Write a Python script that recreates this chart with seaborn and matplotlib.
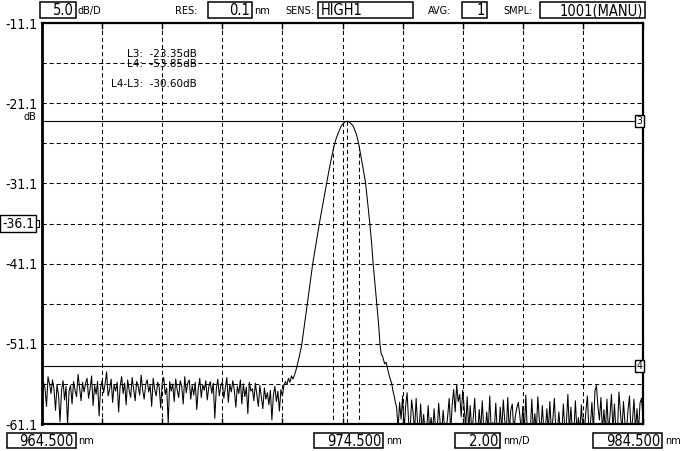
import numpy as np
import pandas as pd
import matplotlib
matplotlib.use("Agg")
import matplotlib.pyplot as plt
import matplotlib.transforms as mtransforms
from matplotlib import font_manager
from matplotlib.patches import Rectangle
import seaborn as sns

START_NM = 964.5
STOP_NM = 984.5
STEP_NM = 0.05

# Rauschen links vom Peak (964.50 ... 972.80 nm, alle 0.05 nm)
noise_left_db = [
    -57.8, -55.9, -56.6, -58.9, -55.2, -56.1, -57.3, -55.6, -56.8, -59.4,
    -56.2, -57.5, -60.8, -56.9, -55.7, -58.1, -56.4, -61.2, -57.0, -56.3,
    -58.6, -55.8, -56.9, -57.7, -54.9, -56.5, -58.2, -55.9, -57.1, -56.0,
    -55.4, -57.9, -56.7, -55.1, -58.8, -56.3, -57.4, -55.8, -60.1, -56.6,
    -55.7, -57.2, -56.1, -54.6, -57.6, -56.8, -55.5, -58.4, -56.2, -57.0,
    -55.9, -59.6, -56.4, -55.2, -57.3, -56.0, -58.7, -55.6, -56.9, -57.8,
    -55.3, -56.7, -58.2, -55.8, -56.4, -57.5, -55.0, -56.9, -58.0, -56.2,
    -55.6, -57.1, -56.3, -58.9, -55.4, -56.8, -57.6, -55.9, -56.5, -59.1,
    -56.0, -55.3, -57.4, -56.6, -61.0, -55.8, -57.0, -56.1, -58.3, -55.5,
    -56.9, -57.8, -55.7, -56.4, -58.6, -55.2, -57.2, -56.0, -55.6, -58.0,
    -56.3, -57.5, -55.9, -59.3, -56.7, -55.4, -57.8, -56.2, -56.9, -55.7,
    -58.1, -56.5, -55.8, -57.3, -56.0, -60.4, -56.8, -55.5, -57.6, -56.3,
    -55.9, -57.9, -56.6, -55.3, -58.4, -56.2, -57.1, -55.7, -56.9, -59.0,
    -56.4, -57.3, -55.6, -58.6, -56.1, -57.7, -56.5, -59.8, -55.9, -57.0,
    -56.7, -58.2, -56.0, -57.4, -58.9, -56.3, -57.8, -59.2, -56.6, -58.0,
    -57.2, -58.7, -56.9, -60.6, -57.5, -56.4, -58.3, -57.0, -59.5, -56.8,
    -57.6, -56.3, -55.8, -56.2, -55.4, -55.9, -55.1,
]

# Peak (972.85 ... 976.26 nm)
peak_nm = [
    972.85, 972.92, 972.98, 973.06, 973.14, 973.24, 973.33, 973.42, 973.51,
    973.62, 973.73, 973.85, 973.97, 974.09, 974.22, 974.29, 974.36, 974.45,
    974.53, 974.60, 974.66, 974.72, 974.80, 974.86, 974.95, 975.00, 975.05,
    975.16, 975.27, 975.34, 975.41, 975.47, 975.52, 975.58, 975.64, 975.70,
    975.75, 975.79, 975.83, 975.86, 975.90, 975.95, 976.00, 976.05, 976.10,
    976.14, 976.18, 976.22, 976.26,
]
peak_db = [
    -55.5, -54.8, -54.0, -52.7, -51.3, -48.6, -46.1, -43.6, -41.1,
    -38.6, -36.1, -33.6, -31.1, -28.7, -26.4, -25.5, -24.8, -24.0,
    -23.6, -23.4, -23.35, -23.45, -23.7, -24.0, -24.85, -25.5, -26.4,
    -28.7, -31.1, -33.6, -36.1, -38.6, -41.1, -43.6, -46.1, -48.6,
    -51.3, -52.4, -52.6, -53.0, -53.6, -53.4, -54.2, -55.0, -55.6,
    -56.1, -57.0, -57.6, -58.4,
]

# Rauschen rechts vom Peak (976.30 ... 984.50 nm), -62 = unter dem Bildrand
NOISE_RIGHT_START = 976.30
noise_right_db = [
    -59.0, -61.8, -58.4, -60.5, -57.6, -62.0, -58.9, -57.2, -60.8, -62.0,
    -58.1, -59.7, -62.0, -57.9, -61.2, -62.0, -58.6, -62.0, -59.9, -62.0,
    -62.0, -58.8, -62.0, -60.3, -62.0, -59.2, -62.0, -62.0, -58.5, -61.0,
    -62.0, -59.4, -62.0, -62.0, -60.1, -57.9, -62.0, -58.7, -56.8, -59.6,
    -56.2, -58.3, -57.4, -60.2, -56.9, -59.1, -61.5, -57.7, -62.0, -58.8,
    -62.0, -60.4, -57.9, -62.0, -62.0, -59.3, -62.0, -58.2, -61.7, -62.0,
    -59.6, -62.0, -57.6, -62.0, -60.9, -62.0, -58.5, -62.0, -62.0, -59.0,
    -62.0, -58.1, -60.7, -62.0, -57.8, -62.0, -59.4, -58.6, -62.0, -60.2,
    -59.1, -58.4, -60.0, -62.0, -58.9, -62.0, -57.5, -62.0, -61.4, -62.0,
    -58.0, -62.0, -59.8, -62.0, -57.7, -60.6, -62.0, -58.8, -62.0, -62.0,
    -59.2, -62.0, -58.3, -62.0, -60.5, -57.9, -62.0, -62.0, -59.6, -62.0,
    -62.0, -58.6, -62.0, -61.0, -57.4, -62.0, -59.0, -62.0, -62.0, -58.2,
    -62.0, -60.3, -62.0, -58.7, -62.0, -62.0, -59.5, -57.6, -62.0, -61.2,
    -58.4, -62.0, -57.0, -56.3, -58.9, -60.6, -57.8, -62.0, -59.3, -62.0,
    -58.0, -62.0, -60.1, -57.4, -62.0, -58.6, -62.0, -62.0, -57.1, -59.7,
    -62.0, -58.3, -61.0, -62.0, -59.4, -57.6, -62.0, -60.7, -58.0, -62.0,
    -59.2, -62.0, -58.5, -57.9, -60.3,
]

# Achsen / Marker
y_ticks = [-11.1, -16.1, -21.1, -26.1, -31.1, -36.1, -41.1, -46.1, -51.1, -56.1, -61.1]
y_labels = ["-11.1", "", "-21.1", "", "-31.1", "", "-41.1", "", "-51.1", "", "-61.1"]
x_ticks = [964.5, 966.5, 968.5, 970.5, 972.5, 974.5, 976.5, 978.5, 980.5, 982.5, 984.5]
REF_LEVEL = -36.1
L3_DB = -23.35
L4_DB = -53.85
marker_nm = [974.19, 974.66, 975.05]
marker_top_db = [-26.4, -23.35, -26.4]

# --- Tabelle fuer seaborn ---
x_left = START_NM + STEP_NM * np.arange(len(noise_left_db))
x_right = NOISE_RIGHT_START + STEP_NM * np.arange(len(noise_right_db))
df = pd.DataFrame({
    "nm": np.concatenate([x_left, peak_nm, x_right]),
    "dB": np.concatenate([noise_left_db, peak_db, noise_right_db]),
})

# --- Schrift: schmal, falls vorhanden; alles schwarz ---
sns.set_style("white")
plt.rcParams["font.family"] = ["DejaVu Sans"]
for key in ["text.color", "axes.labelcolor", "xtick.color", "ytick.color", "axes.edgecolor"]:
    plt.rcParams[key] = "black"
has_condensed = any(f.name == "DejaVu Sans" and f.stretch == "condensed"
                    for f in font_manager.fontManager.ttflist)
if has_condensed:
    plt.rcParams["font.stretch"] = "condensed"
NUM_SIZE = 10 if has_condensed else 9

W, H = 693, 451
fig = plt.figure(figsize=(W / 100, H / 100), dpi=100)
ax = fig.add_axes([42 / W, (H - 424) / H, 601 / W, 401 / H])


def fx(x):
    return x / W


def fy(y):
    return 1 - y / H


sns.lineplot(data=df, x="nm", y="dB", ax=ax, color="black", linewidth=0.75,
             estimator=None, sort=False)

ax.set_xlim(START_NM, STOP_NM)
ax.set_ylim(-61.1, -11.1)
ax.set_xticks(x_ticks)
ax.set_yticks(y_ticks)
ax.set_yticklabels(y_labels, fontsize=NUM_SIZE)
ax.set_xlabel("")
ax.set_ylabel("")
ax.tick_params(axis="x", direction="in", top=True, bottom=True, length=4,
               width=1, labelbottom=False)
ax.tick_params(axis="y", length=0, pad=3)
ax.grid(True, color="black", linewidth=0.75, linestyle=(0, (4, 2.8)))
for side, lw in [("left", 2.0), ("right", 1.6), ("top", 1.6), ("bottom", 1.6)]:
    ax.spines[side].set_linewidth(lw)
    ax.spines[side].set_color("black")
    ax.spines[side].set_visible(True)

# Marker L3 / L4
ax.axhline(L3_DB, xmax=0.985, color="black", linewidth=0.8)
ax.axhline(L4_DB, xmax=0.985, color="black", linewidth=0.8)
for m, top in zip(marker_nm, marker_top_db):
    ax.plot([m, m], [top, -61.1], color="black", linewidth=0.75,
            linestyle=(0, (4, 2.8)))

blend = mtransforms.blended_transform_factory(ax.transAxes, ax.transData)
box = dict(boxstyle="square,pad=0.12", facecolor="white", edgecolor="black", linewidth=1)
ax.text(0.999, L3_DB, "3", transform=blend, ha="right", va="center", fontsize=7.5,
        bbox=box)
ax.text(0.999, L4_DB, "4", transform=blend, ha="right", va="center", fontsize=7.5,
        bbox=box)
ax.text(-0.013, REF_LEVEL, "-36.1", transform=blend, ha="right", va="center",
        fontsize=NUM_SIZE, bbox=dict(boxstyle="square,pad=0.12", facecolor="white",
                                     edgecolor="black", linewidth=1), clip_on=False)
fig.add_artist(Rectangle((fx(36), fy(227)), 3 / W, 7 / H, transform=fig.transFigure,
                         facecolor="white", edgecolor="black", linewidth=0.8))
ax.text(-0.01, -22.8, "dB", transform=blend, ha="right", va="center", fontsize=7,
        fontstretch="normal", clip_on=False)

# Messwerte im Plot
for txt, y in [("L3:  -23.35dB", 54), ("L4:  -53.85dB", 64), ("L4-L3:  -30.60dB", 84)]:
    fig.text(fx(197), fy(y), txt, ha="right", va="center", fontsize=7.5,
             fontstretch="normal")


# Kopf- und Fusszeile (Eingabefelder)
def field(x0, x1, y0, y1, text, align="right"):
    fig.add_artist(Rectangle((fx(x0), fy(y1)), (x1 - x0) / W, (y1 - y0) / H,
                             transform=fig.transFigure, facecolor="white",
                             edgecolor="black", linewidth=1.1))
    xt = fx(x1 - 2) if align == "right" else fx(x0 + 3)
    fig.text(xt, fy((y0 + y1) / 2 + 0.5), text, ha=align, va="center",
             fontsize=NUM_SIZE + 0.5)


def label(x, y, text):
    fig.text(fx(x), fy(y), text, ha="left", va="center", fontsize=7,
             fontstretch="normal")


field(40, 76, 2, 18, "5.0")
label(78, 11, "dB/D")
label(175, 11, "RES:")
field(208, 252, 2, 18, "0.1")
label(254, 11, "nm")
label(285, 11, "SENS:")
field(318, 413, 2, 18, "HIGH1", align="left")
label(428, 11, "AVG:")
field(462, 487, 2, 18, "1")
label(503, 11, "SMPL:")
field(540, 645, 2, 18, "1001(MANU)")

field(7, 76, 433, 448, "964.500")
label(78, 441, "nm")
field(314, 383, 433, 448, "974.500")
label(386, 441, "nm")
field(455, 500, 433, 448, "2.00")
label(503, 441, "nm/D")
field(593, 662, 433, 448, "984.500")
label(665, 441, "nm")

fig.savefig("out.png", dpi=100)
plt.close(fig)
